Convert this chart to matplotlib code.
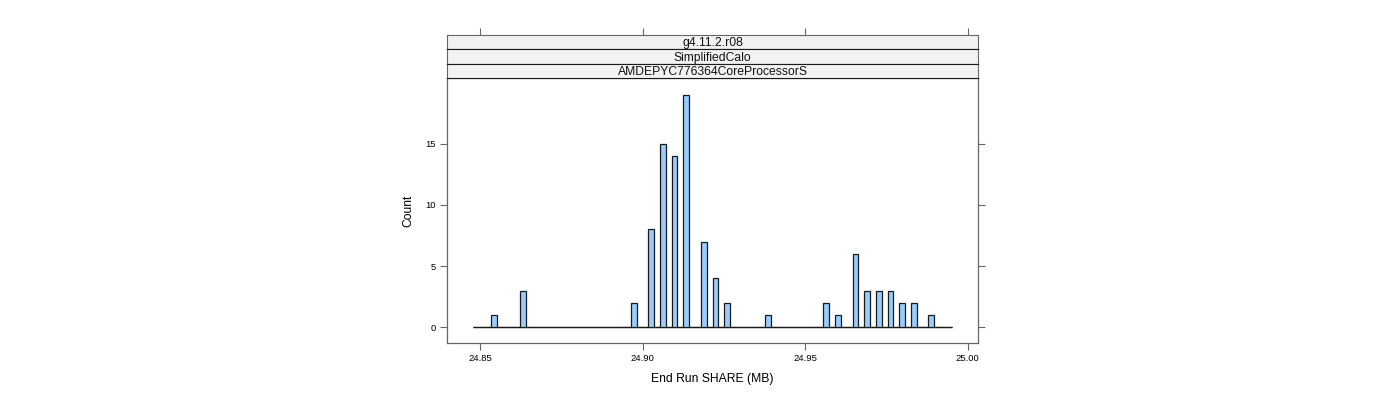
import numpy as np
import matplotlib
matplotlib.use("Agg")
import matplotlib.pyplot as plt

plt.rcParams['font.family'] = ['Liberation Sans', 'DejaVu Sans']

# bar centres (MB) and counts
share_mb = [24.85419, 24.86317, 24.89725, 24.90266, 24.90617, 24.90974, 24.91343,
            24.91867, 24.92236, 24.92596, 24.93843, 24.95652, 24.96003, 24.96545,
            24.96905, 24.97265, 24.97622, 24.97973, 24.98330, 24.98875]
counts = [1, 3, 2, 8, 15, 14, 19, 7, 4, 2, 1, 2, 1, 6, 3, 3, 3, 2, 2, 1]

strip_labels = ["g4.11.2.r08", "SimplifiedCalo", "AMDEPYC776364CoreProcessorS"]
x_ticks = [24.85, 24.90, 24.95, 25.00]
x_ticklabels = ["24.85", "24.90", "24.95", "25.00"]
y_ticks = [0, 5, 10, 15]

bin_lo, bin_hi, n_bins = 24.84788, 24.99512, 82
xlim = (24.83978, 25.00322)
ylim = (-1.28, 20.37)

W, H = 1400, 400
fig = plt.figure(figsize=(14, 4), dpi=100)

frame_col = '#666666'
px = lambda x0, y0, x1, y1: [x0 / W, 1 - y1 / H, (x1 - x0) / W, (y1 - y0) / H]

ax = fig.add_axes(px(447, 78, 978, 343))
edges = np.linspace(bin_lo, bin_hi, n_bins + 1)
# empty bins show as a flat line along zero
ax.hlines(0, edges[0], edges[-1], color='#1a1a1a', linewidth=0.9, zorder=1)
ax.hist(share_mb, bins=edges, weights=counts, facecolor='#99CCFF',
        edgecolor='#1a1a1a', linewidth=0.9, zorder=2)
ax.set_xlim(xlim)
ax.set_ylim(ylim)
ax.set_xticks(x_ticks)
ax.set_xticklabels(x_ticklabels)
ax.set_yticks(y_ticks)
ax.tick_params(direction='out', length=5, width=0.8, color=frame_col,
               labelsize=6.8, right=True, pad=3)
for s in ax.spines.values():
    s.set_color(frame_col)
    s.set_linewidth(0.9)
ax.set_xlabel("End Run SHARE (MB)", fontsize=8.7, labelpad=7)
ax.set_ylabel("Count", fontsize=8.7, labelpad=8)

# strips
strip_top = 35
strip_h = (78 - 35) / 3
for i, lab in enumerate(strip_labels):
    y0 = strip_top + i * strip_h
    sax = fig.add_axes(px(447, y0, 978, y0 + strip_h))
    sax.set_facecolor('#F2F2F2')
    sax.set_xlim(xlim)
    sax.set_ylim(0, 1)
    sax.set_yticks([])
    if i == 0:
        sax.set_xticks(x_ticks)
        sax.tick_params(axis='x', direction='out', length=5, width=0.8,
                        color=frame_col, top=True, bottom=False,
                        labeltop=False, labelbottom=False)
    else:
        sax.set_xticks([])
    for name, s in sax.spines.items():
        s.set_linewidth(0.8)
        s.set_color(frame_col if name in ('left', 'right') or (name == 'top' and i == 0) else '#1a1a1a')
    sax.text(0.5, 0.42, lab, transform=sax.transAxes, ha='center', va='center',
             fontsize=8.7, color='#111111')

fig.savefig("out.png", dpi=100)
